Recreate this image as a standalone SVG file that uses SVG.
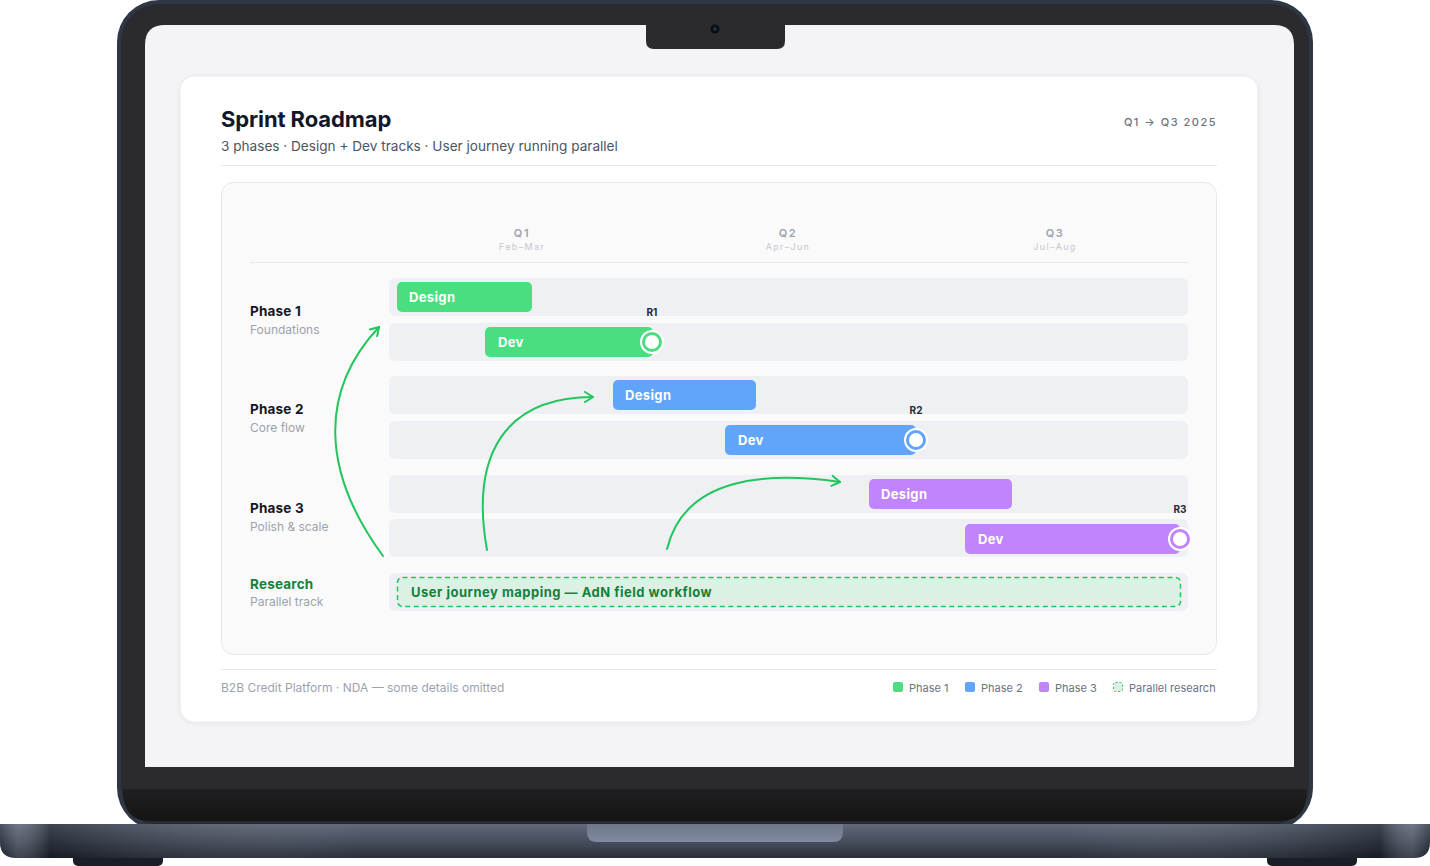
<svg xmlns="http://www.w3.org/2000/svg" width="1430" height="866" viewBox="0 0 1430 866">
<defs>
<style>
text{font-family:Inter,"Noto Sans","Liberation Sans",sans-serif}
.track{fill:#eff0f4}
.bar-t{font-size:13px;font-weight:700;fill:#fff;letter-spacing:0.35px}
.ph{font-size:13.5px;font-weight:700;fill:#111827;letter-spacing:0.2px}
.sub{font-size:12px;fill:#9ca3af}
.qh{font-size:11px;font-weight:600;fill:#9ca3af;letter-spacing:1.6px;text-anchor:middle}
.qm{font-size:9px;fill:#c4c8d0;letter-spacing:1.3px;text-anchor:middle}
.ms{font-size:10px;font-weight:700;fill:#1f2937;text-anchor:middle}
.leg{font-size:11px;fill:#6b7280}
.conn{fill:none;stroke:#22c55e;stroke-width:2;stroke-linecap:round}
</style>
<marker id="ah" viewBox="0 0 12 12" refX="10" refY="6" markerWidth="12" markerHeight="12" markerUnits="userSpaceOnUse" orient="auto">
<path d="M2,1 L10,6 L2,11" fill="none" stroke="#22c55e" stroke-width="2" stroke-linecap="round" stroke-linejoin="round"/>
</marker>
<linearGradient id="baseV" x1="0" y1="0" x2="0" y2="1">
<stop offset="0" stop-color="#586273"/>
<stop offset="0.5" stop-color="#3d4656"/>
<stop offset="1" stop-color="#1f2530"/>
</linearGradient>
<linearGradient id="baseH" x1="0" y1="0" x2="1" y2="0">
<stop offset="0" stop-color="#000" stop-opacity="0.15"/>
<stop offset="0.012" stop-color="#fff" stop-opacity="0.14"/>
<stop offset="0.035" stop-color="#000" stop-opacity="0.3"/>
<stop offset="0.25" stop-color="#fff" stop-opacity="0.05"/>
<stop offset="0.75" stop-color="#fff" stop-opacity="0.05"/>
<stop offset="0.965" stop-color="#000" stop-opacity="0.3"/>
<stop offset="0.988" stop-color="#fff" stop-opacity="0.14"/>
<stop offset="1" stop-color="#000" stop-opacity="0.15"/>
</linearGradient>
<linearGradient id="chin" x1="0" y1="0" x2="0" y2="1">
<stop offset="0" stop-color="#202022"/>
<stop offset="1" stop-color="#141414"/>
</linearGradient>
<linearGradient id="groove" x1="0" y1="0" x2="0" y2="1">
<stop offset="0" stop-color="#6e7889"/>
<stop offset="1" stop-color="#808aa0"/>
</linearGradient>
<filter id="sh" x="-5%" y="-5%" width="110%" height="110%">
<feDropShadow dx="0" dy="1" stdDeviation="2" flood-color="#000" flood-opacity="0.06"/>
</filter>
</defs>

<g id="laptop">
<rect x="73" y="852" width="90" height="14" rx="5" fill="#1a1e26"/>
<rect x="1267" y="852" width="90" height="14" rx="5" fill="#1a1e26"/>
<rect x="117" y="0" width="1196" height="830" rx="42" fill="#2f3644"/>
<rect x="121" y="4" width="1188" height="821" rx="38" fill="#2b2a2f"/>
<path d="M123,789 H1307 V790 Q1307,821 1280,821 H150 Q123,821 123,790 Z" fill="url(#chin)"/>
<path d="M145,45 Q145,25 165,25 H1274 Q1294,25 1294,45 V767 H145 Z" fill="#f4f4f6"/>
<path d="M646,25 H785 V41 Q785,49 777,49 H654 Q646,49 646,41 Z" fill="#2b2a2f"/>
<circle cx="715" cy="29" r="4.5" fill="#0d0d10"/>
<circle cx="715" cy="29" r="1.8" fill="#1d3a5a"/>
<path d="M0,824 H1430 V842 Q1430,858 1414,858 H16 Q0,858 0,842 Z" fill="url(#baseV)"/>
<path d="M0,824 H1430 V842 Q1430,858 1414,858 H16 Q0,858 0,842 Z" fill="url(#baseH)"/>
<path d="M587,824 H843 V832 Q843,842 833,842 H597 Q587,842 587,832 Z" fill="url(#groove)"/>
</g>

<g id="card">
<rect x="180" y="76" width="1078" height="646" rx="14" fill="#fff" stroke="#e8e9ed" filter="url(#sh)"/>
<text x="221" y="127" font-size="22" font-weight="700" fill="#111827" letter-spacing="-0.1">Sprint Roadmap</text>
<text x="221" y="151" font-size="13.6" fill="#4b5563">3 phases · Design + Dev tracks · User journey running parallel</text>
<text x="1217" y="126" font-size="11" font-weight="500" fill="#6b7280" letter-spacing="1.5" text-anchor="end">Q1 → Q3 2025</text>
<line x1="221" y1="165.5" x2="1217" y2="165.5" stroke="#e5e7eb"/>
<rect x="221.5" y="182.5" width="995" height="472" rx="12" fill="#fafafa" stroke="#e7e8eb"/>
</g>

<g id="header">
<text class="qh" x="522" y="237">Q1</text>
<text class="qm" x="522" y="250">Feb–Mar</text>
<text class="qh" x="788" y="237">Q2</text>
<text class="qm" x="788" y="250">Apr–Jun</text>
<text class="qh" x="1055" y="237">Q3</text>
<text class="qm" x="1055" y="250">Jul–Aug</text>
<line x1="250" y1="262.5" x2="1188" y2="262.5" stroke="#e5e7eb"/>
</g>

<g id="tracks">
<rect class="track" x="389" y="278" width="799" height="38" rx="6"/>
<rect class="track" x="389" y="323" width="799" height="38" rx="6"/>
<rect class="track" x="389" y="376" width="799" height="38" rx="6"/>
<rect class="track" x="389" y="421" width="799" height="38" rx="6"/>
<rect class="track" x="389" y="475" width="799" height="38" rx="6"/>
<rect class="track" x="389" y="519" width="799" height="38" rx="6"/>
<rect class="track" x="389" y="573" width="799" height="38" rx="6"/>
</g>

<g id="phase1">
<text class="ph" x="250" y="316">Phase 1</text>
<text class="sub" x="250" y="334">Foundations</text>
<g id="p1-design">
<rect x="397" y="282" width="135" height="30" rx="5" fill="#4ade80"/>
<text class="bar-t" x="409" y="302">Design</text>
</g>
<g id="p1-dev">
<rect x="485" y="327" width="168" height="30" rx="5" fill="#4ade80"/>
<text class="bar-t" x="498" y="347">Dev</text>
<circle cx="652" cy="342" r="12" fill="#fff"/>
<circle cx="652" cy="342" r="8.5" fill="#fff" stroke="#4ade80" stroke-width="3"/>
<text class="ms" x="652" y="316">R1</text>
</g>
</g>

<g id="phase2">
<text class="ph" x="250" y="414">Phase 2</text>
<text class="sub" x="250" y="432">Core flow</text>
<g id="p2-design">
<rect x="613" y="380" width="143" height="30" rx="5" fill="#60a5fa"/>
<text class="bar-t" x="625" y="400">Design</text>
</g>
<g id="p2-dev">
<rect x="725" y="425" width="191" height="30" rx="5" fill="#60a5fa"/>
<text class="bar-t" x="738" y="445">Dev</text>
<circle cx="916" cy="440" r="12" fill="#fff"/>
<circle cx="916" cy="440" r="8.5" fill="#fff" stroke="#60a5fa" stroke-width="3"/>
<text class="ms" x="916" y="414">R2</text>
</g>
</g>

<g id="phase3">
<text class="ph" x="250" y="513">Phase 3</text>
<text class="sub" x="250" y="531">Polish &amp; scale</text>
<g id="p3-design">
<rect x="869" y="479" width="143" height="30" rx="5" fill="#c084fc"/>
<text class="bar-t" x="881" y="499">Design</text>
</g>
<g id="p3-dev">
<rect x="965" y="524" width="215" height="30" rx="5" fill="#c084fc"/>
<text class="bar-t" x="978" y="544">Dev</text>
<circle cx="1180" cy="539" r="12" fill="#fff"/>
<circle cx="1180" cy="539" r="8.5" fill="#fff" stroke="#c084fc" stroke-width="3"/>
<text class="ms" x="1180" y="513">R3</text>
</g>
</g>

<g id="research">
<text x="250" y="589" font-size="13.5" font-weight="700" fill="#15803d" letter-spacing="0.2">Research</text>
<text class="sub" x="250" y="606">Parallel track</text>
<rect x="397.5" y="577.5" width="783" height="29" rx="5" fill="#dcf1e4" stroke="#22c55e" stroke-width="1.5" stroke-dasharray="5,3.5"/>
<text x="411" y="597" font-size="13" font-weight="700" fill="#15803d" letter-spacing="0.5">User journey mapping — AdN field workflow</text>
</g>

<g id="connectors">
<path class="conn" d="M383,556 C320,470 320,390 379,327" marker-end="url(#ah)"/>
<path class="conn" d="M487,550 C470,455 505,397 593,397" marker-end="url(#ah)"/>
<path class="conn" d="M667,549 C685,475 770,472 840,482" marker-end="url(#ah)"/>
</g>

<g id="footer">
<line x1="221" y1="669.5" x2="1217" y2="669.5" stroke="#e5e7eb"/>
<text class="sub" x="221" y="692">B2B Credit Platform · NDA — some details omitted</text>
<rect x="893" y="682" width="10" height="10" rx="2" fill="#4ade80"/>
<text class="leg" x="909" y="692">Phase 1</text>
<rect x="965" y="682" width="10" height="10" rx="2" fill="#60a5fa"/>
<text class="leg" x="981" y="692">Phase 2</text>
<rect x="1039" y="682" width="10" height="10" rx="2" fill="#c084fc"/>
<text class="leg" x="1055" y="692">Phase 3</text>
<rect x="1113.5" y="682.5" width="9" height="9" rx="2" fill="#dcf1e4" stroke="#22c55e" stroke-dasharray="2,2"/>
<text class="leg" x="1129" y="692">Parallel research</text>
</g>
</svg>
